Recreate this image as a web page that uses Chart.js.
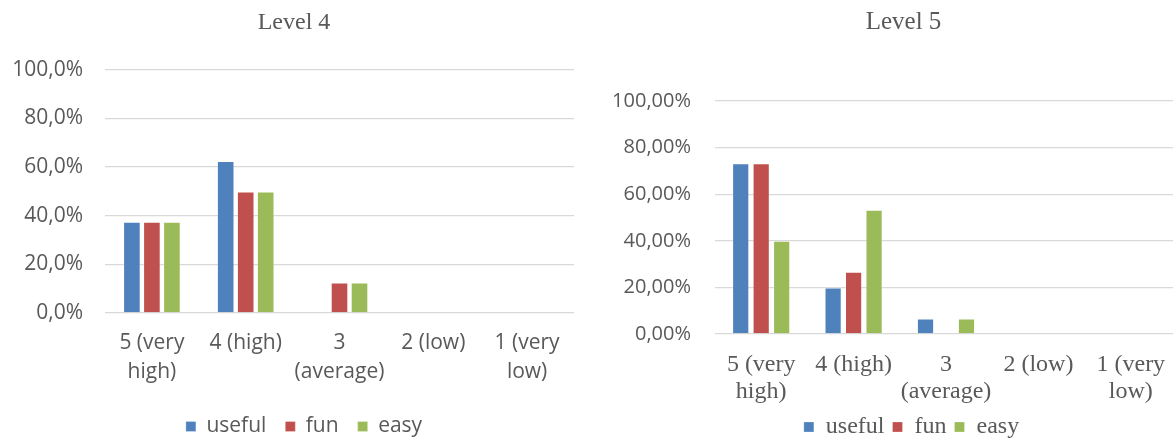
<!DOCTYPE html>
<html>
<head>
<meta charset="utf-8">
<title>Level 4 / Level 5</title>
<script src="https://cdn.jsdelivr.net/npm/chart.js@4.4.0/dist/chart.umd.min.js"></script>
<style>
  html, body { margin: 0; padding: 0; background: #fff; }
  body { width: 1173px; height: 439px; position: relative; overflow: hidden; }
  .panel { position: absolute; top: 0; height: 439px; overflow: hidden; }
  #wrap4 { left: 0; width: 585px; }
  #wrap5 { left: 590px; width: 583px; }
</style>
</head>
<body>
<div class="panel" id="wrap4"><canvas id="chart4" width="585" height="447"></canvas></div>
<div class="panel" id="wrap5"><canvas id="chart5" width="630" height="449"></canvas></div>
<script>
// answer categories (shared by both levels)
const categories = [
    ['5 (very', 'high)'],
    '4 (high)',
    ['3', '(average)'],
    '2 (low)',
    ['1 (very', 'low)']
];
const seriesNames = ['useful', 'fun', 'easy'];
const seriesColors = ['#4F81BD', '#C0504D', '#9BBB59'];
const yTicks = [0, 20, 40, 60, 80, 100];

// Level 4 shares (%)
const level4Useful = [37.5, 62.5, 0, 0, 0];
const level4Fun = [37.5, 50, 12.5, 0, 0];
const level4Easy = [37.5, 50, 12.5, 0, 0];

// Level 5 shares (%)
const level5Useful = [73.33, 20, 6.67, 0, 0];
const level5Fun = [73.33, 26.67, 0, 0, 0];
const level5Easy = [40, 53.33, 6.67, 0, 0];

const grey = '#595959';
const sans = "'Open Sans', sans-serif";
const serif = "'Liberation Serif', 'Times New Roman', serif";

// title and legend sit centred on the whole chart box, not just the plot,
// so nudge them sideways once the layout is known
const nudgeBlocks = {
    id: 'nudgeBlocks',
    afterLayout: function (chart, args, opts) {
        if (chart.titleBlock) {
            chart.titleBlock.left += opts.title;
            chart.titleBlock.right += opts.title;
        }
        if (chart.legend) {
            chart.legend.left += opts.legend;
            chart.legend.right += opts.legend;
        }
    }
};

function buildDatasets(values, catPct, barPct) {
    return values.map(function (data, i) {
        return {
            label: seriesNames[i],
            data: data,
            backgroundColor: seriesColors[i],
            borderColor: 'rgba(255,255,255,0.25)',
            borderWidth: 1,
            categoryPercentage: catPct,
            barPercentage: barPct
        };
    });
}

function makeChart(id, cfg) {
    return new Chart(document.getElementById(id), {
        type: 'bar',
        data: {
            labels: categories,
            datasets: buildDatasets(cfg.values, cfg.catPct, cfg.barPct)
        },
        plugins: [nudgeBlocks],
        options: {
            responsive: false,
            animation: false,
            layout: { padding: { left: 0, right: cfg.padRight, top: 0, bottom: 0 } },
            plugins: {
                tooltip: { enabled: false },
                nudgeBlocks: { title: cfg.titleShift, legend: cfg.legendShift },
                title: {
                    display: true,
                    text: cfg.title,
                    color: grey,
                    font: { family: serif, size: cfg.titleSize, weight: 'normal' },
                    padding: { top: cfg.titleTop, bottom: cfg.titleBottom }
                },
                legend: {
                    position: 'bottom',
                    labels: {
                        color: grey,
                        boxWidth: 10,
                        boxHeight: 10,
                        padding: cfg.legendPad,
                        font: { family: cfg.legendFont, size: cfg.legendSize }
                    }
                }
            },
            scales: {
                x: {
                    grid: { display: false },
                    border: { display: false },
                    ticks: {
                        color: grey,
                        autoSkip: false,
                        maxRotation: 0,
                        padding: cfg.xPad,
                        font: { family: cfg.xFont, size: cfg.xSize, lineHeight: cfg.xLine }
                    },
                    afterFit: function (scale) { scale.height = cfg.xHeight; }
                },
                y: {
                    min: 0,
                    max: 100,
                    afterBuildTicks: function (scale) {
                        scale.ticks = yTicks.map(function (v) { return { value: v }; });
                    },
                    grid: { color: '#D9D9D9', lineWidth: 1.3, drawTicks: false },
                    border: { display: false },
                    ticks: {
                        color: grey,
                        padding: cfg.yPad,
                        font: { family: sans, size: cfg.ySize },
                        callback: function (v) {
                            return v.toFixed(cfg.decimals).replace('.', ',') + '%';
                        }
                    },
                    afterFit: function (scale) { scale.width = cfg.yWidth; }
                }
            }
        }
    });
}

makeChart('chart4', {
    title: 'Level 4',
    titleSize: 24, titleTop: 8, titleBottom: 33, titleShift: 7,
    values: [level4Useful, level4Fun, level4Easy],
    catPct: 0.64, barPct: 0.88,
    padRight: 11,
    yWidth: 105, yPad: 22, ySize: 21, decimals: 1,
    xHeight: 84, xPad: 7, xFont: sans, xSize: 21, xLine: 1.4,
    legendPad: 19, legendFont: sans, legendSize: 21, legendShift: 17
});

makeChart('chart5', {
    title: 'Level 5',
    titleSize: 25, titleTop: 7, titleBottom: 64, titleShift: 20,
    values: [level5Useful, level5Fun, level5Easy],
    catPct: 0.665, barPct: 0.84,
    padRight: 43,
    yWidth: 125, yPad: 24, ySize: 20, decimals: 2,
    xHeight: 73, xPad: 9, xFont: serif, xSize: 24, xLine: 1.12,
    legendPad: 8, legendFont: serif, legendSize: 24, legendShift: 28
});
</script>
</body>
</html>
